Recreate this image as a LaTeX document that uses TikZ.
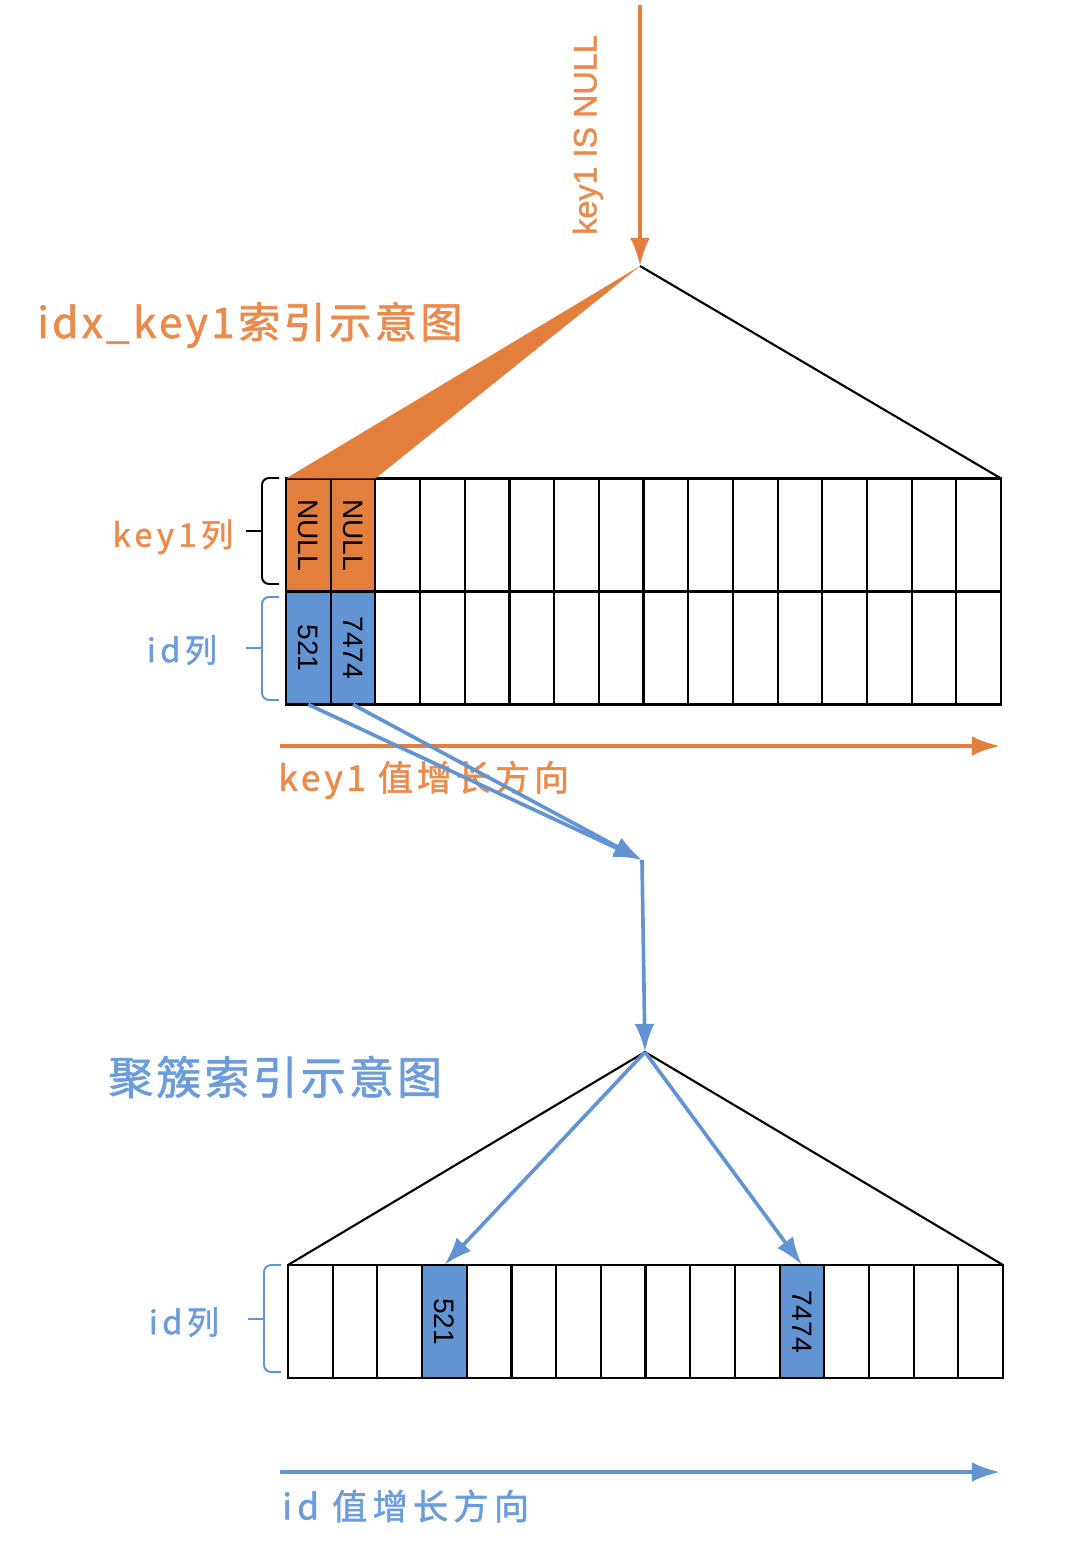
\documentclass[tikz,border=0pt]{standalone}
\usepackage{fontspec}
\setmainfont{Noto Sans CJK SC}
\newfontfamily\cellfont{Liberation Sans}
\newfontfamily\condfont[FakeBold=1.2]{Liberation Sans}
\newfontfamily\heavyfont[FakeBold=1.5]{Noto Sans CJK SC}
\usetikzlibrary{arrows.meta,positioning}
\definecolor{idxorange}{RGB}{228,126,60}
\definecolor{idxblue}{RGB}{98,148,212}
\definecolor{txtorange}{RGB}{236,138,76}
\definecolor{txtblue}{RGB}{108,156,220}

\begin{document}
\begin{tikzpicture}[x=0.025cm,y=-0.025cm,
        cell/.style={draw,line width=1.5pt,minimum width=1.1175cm,minimum height=2.825cm,
                     inner sep=0pt,outer sep=0pt,font=\cellfont\fontsize{20}{20}\selectfont},
        lbl/.style={inner sep=0pt,font=\heavyfont\fontsize{23}{23}\selectfont\addfontfeatures{LetterSpace=14}},
        title/.style={inner sep=0pt,anchor=west},
        bracebox/.style={line width=1.4pt,rounded corners=5pt},
        flow/.style={line width=2.6pt,-{Latex[length=20pt,width=14pt]}}]
    \useasboundingbox (0,0) rectangle (1078,1542);
    % idx_key1 leaf page
    \foreach \i in {3,...,16}{
        \node[cell] (k\i) at ({286+44.69*(\i-0.5)},535) {};
        \node[cell] (d\i) at ({286+44.69*(\i-0.5)},648) {};
    }
    \node[cell,fill=idxorange] (k1) at (308.3,535) {\rotatebox{-90}{NULL}};
    \node[cell,fill=idxorange] (k2) at (353.0,535) {\rotatebox{-90}{NULL}};
    \node[cell,fill=idxblue] (d1) at (308.3,648) {\rotatebox{-90}{521}};
    \node[cell,fill=idxblue] (d2) at (353.0,648) {\rotatebox{-90}{7474}};
    \coordinate (top1) at (640,266);
    \coordinate (query) at (640,5);
    \fill[idxorange] (k1.north west) -- (top1) -- (k2.north east) -- cycle;
    \draw[line width=1.5pt] (top1) -- (k16.north east);
    \draw[flow,idxorange] (query) -- (top1);
    \node[rotate=90,font=\condfont\fontsize{23}{23}\selectfont,text=txtorange] (cond) at (588,135) {key1 IS NULL};
    \node[title,text=txtorange,font=\heavyfont\fontsize{30}{30}\selectfont\addfontfeatures{LetterSpace=8}] (idxname) at (37,325) {idx\_key1索引示意图};
    % column braces
    \draw[bracebox] (279,478) -- (262,478) -- (262,584) -- (279,584);
    \draw[line width=1.4pt] (262,531) -- (246,531);
    \draw[bracebox,idxblue] (279,597) -- (262,597) -- (262,700) -- (279,700);
    \draw[line width=1.4pt,idxblue] (262,648) -- (246,648);
    \node[lbl,text=txtorange] (keycol) at (173,537) {key1列};
    \node[lbl,text=txtblue] (idcol) at (182,650) {id列};
    % key1 direction
    \coordinate (kfrom) at (280,746);
    \coordinate (kto) at (1000,746);
    \draw[flow,idxorange] (kfrom) -- (kto);
    \node[lbl,title,text=txtorange,font=\heavyfont\fontsize{25}{25}\selectfont\addfontfeatures{LetterSpace=11}] (kdir) at (278,780) {key1 值增长方向};
    % back to the clustered index
    \coordinate (hub) at (642,860);
    \coordinate (top2) at (645,1052);
    \draw[flow,idxblue] (d1.south) -- (hub);
    \draw[flow,idxblue] (d2.south) -- (hub);
    \draw[flow,idxblue] (hub) -- (top2);
    % clustered leaf page
    \foreach \i in {1,2,3,5,6,7,8,9,10,11,13,14,15,16}
        \node[cell] (c\i) at ({288+44.69*(\i-0.5)},1321.5) {};
    \node[cell,fill=idxblue] (c4) at (444.4,1321.5) {\rotatebox{-90}{521}};
    \node[cell,fill=idxblue] (c12) at (801.9,1321.5) {\rotatebox{-90}{7474}};
    \draw[line width=1.5pt] (c1.north west) -- (top2) -- (c16.north east);
    \draw[flow,idxblue] (top2) -- (c4.north);
    \draw[flow,idxblue] (top2) -- (c12.north);
    \node[title,text=txtblue,font=\heavyfont\fontsize{32}{32}\selectfont\addfontfeatures{LetterSpace=7}] (cluname) at (108,1077) {聚簇索引示意图};
    \draw[bracebox,idxblue] (281,1265) -- (264,1265) -- (264,1372) -- (281,1372);
    \draw[line width=1.4pt,idxblue] (264,1319) -- (248,1319);
    \node[lbl,text=txtblue] (idcol2) at (184,1322) {id列};
    % id direction
    \coordinate (ifrom) at (280,1472);
    \coordinate (ito) at (1000,1472);
    \draw[flow,idxblue] (ifrom) -- (ito);
    \node[lbl,title,text=txtblue,font=\heavyfont\fontsize{25}{25}\selectfont\addfontfeatures{LetterSpace=15}] (idir) at (282,1506) {id 值增长方向};
\end{tikzpicture}
\end{document}
